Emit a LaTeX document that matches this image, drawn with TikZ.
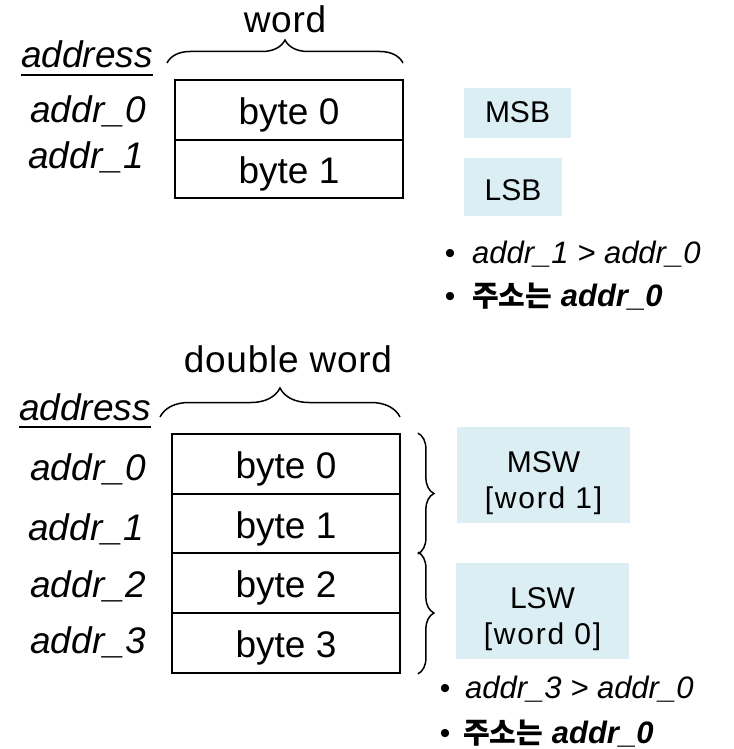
\documentclass[tikz,border=0pt]{standalone}
\usepackage{fontspec}
\setmainfont{Liberation Sans}
\newfontfamily\krfont{Noto Sans CJK KR}
\usetikzlibrary{decorations.pathreplacing}
\definecolor{tagblue}{HTML}{DAEEF3}

\begin{document}
\begin{tikzpicture}[x=1pt,y=-1pt,
  hdr/.style={inner sep=0pt, anchor=base, font=\fontsize{37}{40}\selectfont\addfontfeature{LetterSpace=2}},
  ital/.style={inner sep=0pt, anchor=base, font=\fontsize{37}{40}\selectfont\itshape},
  cell/.style={draw, line width=1.8pt, inner sep=0pt, minimum width=228,
               text height=29, text depth=0, font=\fontsize{37}{40}\selectfont},
  tag/.style={fill=tagblue, inner sep=0pt, text depth=0, font=\fontsize{30}{36}\selectfont},
  tagtxt/.style={inner sep=0pt, anchor=base, font=\fontsize{30}{36}\selectfont},
  widetxt/.style={tagtxt, font=\fontsize{30}{36}\selectfont\addfontfeature{LetterSpace=6}},
  brc/.style={decorate, decoration={brace, amplitude=#1}, line width=1.5pt},
  dot/.style={inner sep=0pt, anchor=base, font=\fontsize{30}{36}\selectfont},
  note/.style={inner sep=0pt, anchor=base west, font=\fontsize{31}{36}\selectfont},
  ul/.style={line width=1.6pt}
]
\useasboundingbox (0,0) rectangle (733,749);

% ---------- word (2 bytes) ----------
\node[hdr] (wordlbl) at (285,33) {word};
\draw[brc=23] (167,63) -- (403,63);
\node[ital] (addrhdrA) at (87,68) {address};
\draw[ul] ([yshift=-7pt]addrhdrA.base west) -- ([yshift=-7pt]addrhdrA.base east);

\node[ital] (wa0) at (88,123) {addr\_0};
\node[ital] (wa1) at (86,168) {addr\_1};

\node[cell, minimum height=60] (wb0) at (289,110) {byte 0};
\node[cell, minimum height=58] (wb1) at (289,169) {byte 1};

\node[tag, minimum width=107, minimum height=50, text height=18] (msb) at (517.5,113) {MSB};
\node[tag, minimum width=98, minimum height=58, text height=26] (lsb) at (513,187) {LSB};

\node[dot] (wdot1) at (450,263) {•};
\node[note] (wnote1) at (472,263) {\itshape addr\_1 > addr\_0};
\node[dot] (wdot2) at (450,306) {•};
\node[note] (wnote2) at (472,306) {{\krfont\bfseries\fontsize{29}{36}\selectfont 주소는} \bfseries\itshape addr\_0};

% ---------- double word (4 bytes) ----------
\node[hdr] (dwordlbl) at (288,372) {double word};
\draw[brc=29] (160,417) -- (400,417);
\node[ital] (addrhdrB) at (85,420) {address};
\draw[ul] ([yshift=-7pt]addrhdrB.base west) -- ([yshift=-7pt]addrhdrB.base east);

\node[ital] (da0) at (88,480) {addr\_0};
\node[ital] (da1) at (86,540) {addr\_1};
\node[ital] (da2) at (88,597) {addr\_2};
\node[ital] (da3) at (88,653) {addr\_3};

\node[cell, minimum height=60] (db0) at (286,464) {byte 0};
\node[cell, minimum height=59] (db1) at (286,523.5) {byte 1};
\node[cell, minimum height=60] (db2) at (286,583) {byte 2};
\node[cell, minimum height=60] (db3) at (286,643) {byte 3};

\draw[brc=16] ([xshift=17pt]db0.north east) -- ([xshift=17pt]db1.south east);
\draw[brc=16] ([xshift=17pt]db2.north east) -- ([xshift=17pt]db3.south east);

\node[tag, minimum width=173, minimum height=96] (msw) at (543.5,475) {};
\node[tagtxt] (mswa) at (543.5,472) {MSW};
\node[widetxt] (mswb) at (543.5,508) {[word 1]};
\node[tag, minimum width=173, minimum height=96] (lsw) at (542.5,611) {};
\node[tagtxt] (lswa) at (542.5,608) {LSW};
\node[widetxt] (lswb) at (542.5,644) {[word 0]};

\node[dot] (ddot1) at (445,698) {•};
\node[note] (dnote1) at (465,698) {\itshape addr\_3 > addr\_0};
\node[dot] (ddot2) at (445,743) {•};
\node[note] (dnote2) at (463,743) {{\krfont\bfseries\fontsize{29}{36}\selectfont 주소는} \bfseries\itshape addr\_0};
\end{tikzpicture}
\end{document}
